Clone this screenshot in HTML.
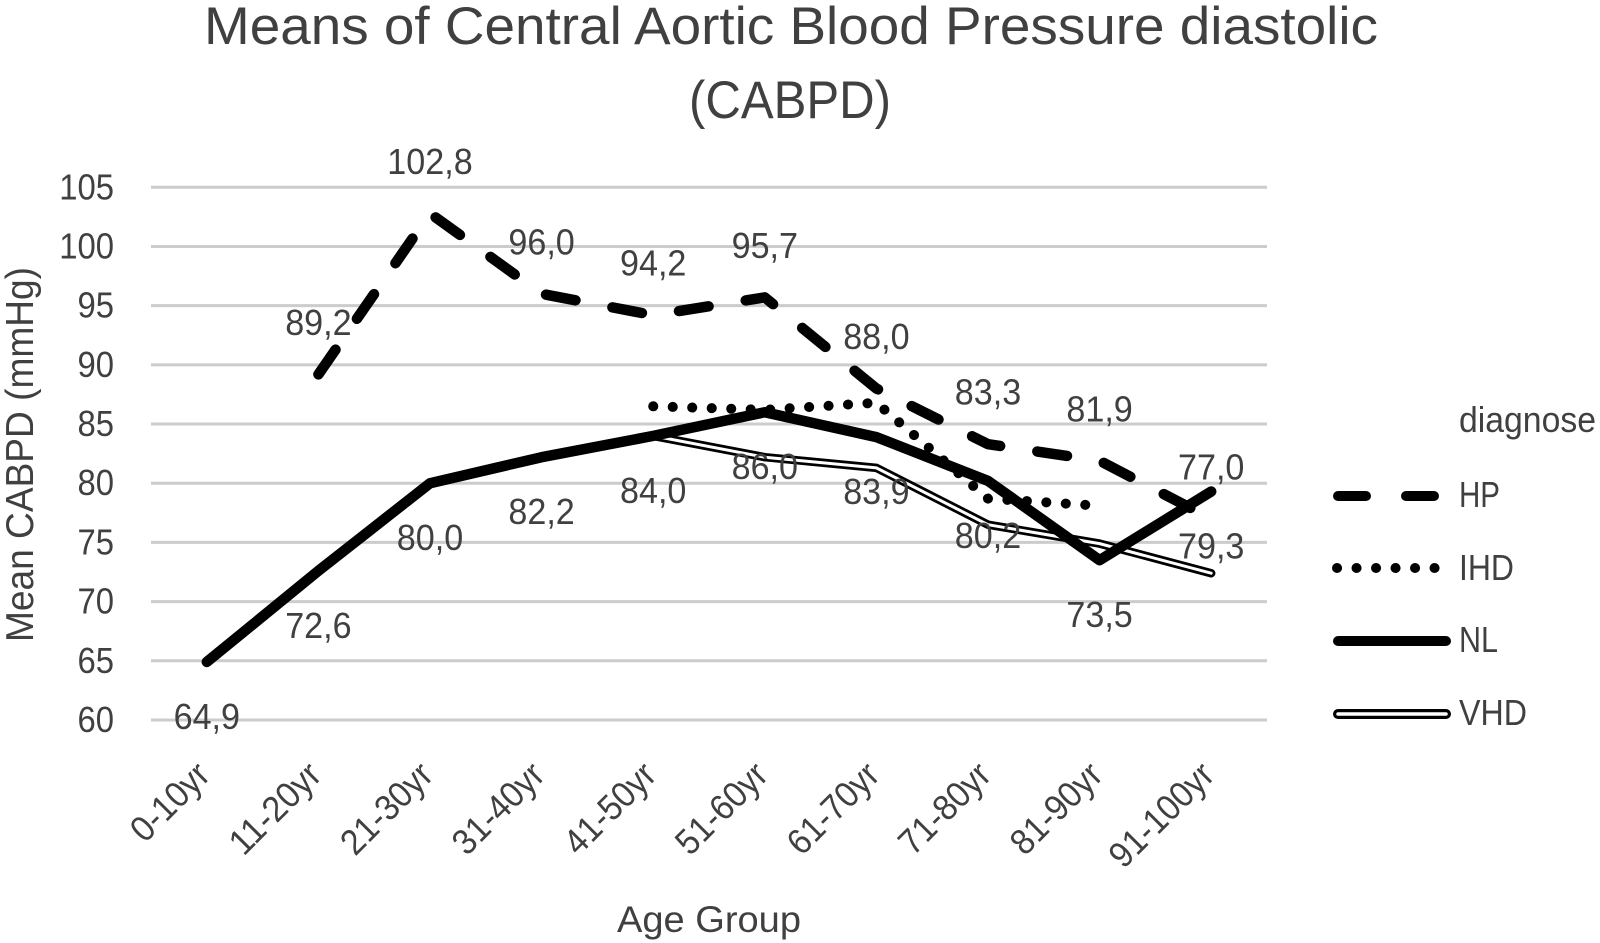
<!DOCTYPE html>
<html lang="en">
<head>
<meta charset="utf-8">
<title>Means of Central Aortic Blood Pressure diastolic (CABPD)</title>
<style>
html,body{margin:0;padding:0;background:#fff;width:1600px;height:943px;overflow:hidden}
svg{display:block}
text{font-family:"Liberation Sans",sans-serif;fill:#404040}
</style>
</head>
<body>
<svg id="chart" width="1600" height="943" viewBox="0 0 1600 943" xmlns="http://www.w3.org/2000/svg">
  <rect width="1600" height="943" fill="#ffffff"/>
  <g id="grid"></g>
  <g id="ticks"></g>
  <g id="cats"></g>
  <g id="series"></g>
  <g id="labels"></g>

  <text x="204" y="44" font-size="53" textLength="1174" lengthAdjust="spacingAndGlyphs">Means of Central Aortic Blood Pressure diastolic</text>
  <text x="689" y="118" font-size="53" textLength="202" lengthAdjust="spacingAndGlyphs">(CABPD)</text>
  <text transform="translate(33 642) rotate(-90)" font-size="39" textLength="375" lengthAdjust="spacingAndGlyphs">Mean CABPD (mmHg)</text>
  <text x="617" y="932" font-size="37" textLength="184" lengthAdjust="spacingAndGlyphs">Age Group</text>

  <g>
    <text x="1459" y="432" font-size="36" textLength="137" lengthAdjust="spacingAndGlyphs">diagnose</text>
    <g>
      <path d="M1338 496H1445" fill="none" stroke="#000" stroke-width="10" stroke-linecap="round" stroke-dasharray="28 40"/>
      <text x="1459" y="507" font-size="36" textLength="41" lengthAdjust="spacingAndGlyphs">HP</text>
    </g>
    <g>
      <path d="M1337 568H1440" fill="none" stroke="#000" stroke-width="10" stroke-linecap="round" stroke-dasharray="0.1 19.4"/>
      <text x="1459" y="580" font-size="36" textLength="55" lengthAdjust="spacingAndGlyphs">IHD</text>
    </g>
    <g>
      <path d="M1338 641H1446" fill="none" stroke="#000" stroke-width="10" stroke-linecap="round"/>
      <text x="1459" y="652" font-size="36" textLength="39" lengthAdjust="spacingAndGlyphs">NL</text>
    </g>
    <g>
      <path d="M1338 714H1446" fill="none" stroke="#000" stroke-width="10" stroke-linecap="round"/>
      <path d="M1338 714H1446" fill="none" stroke="#fff" stroke-width="3.5" stroke-linecap="round"/>
      <text x="1459" y="725" font-size="36" textLength="68" lengthAdjust="spacingAndGlyphs">VHD</text>
    </g>
  </g>
</svg>
<script>
var categories = ['0-10yr','11-20yr','21-30yr','31-40yr','41-50yr','51-60yr','61-70yr','71-80yr','81-90yr','91-100yr'];
var yTicks = [60,65,70,75,80,85,90,95,100,105];
var hpValues  = [null,89.2,102.8,96.0,94.2,95.7,88.0,83.3,81.9,77.0];
var ihdValues = [null,null,null,null,86.5,86.2,86.8,78.7,78.1,null];
var nlValues  = [64.9,72.6,80.0,82.2,84.0,86.0,83.9,80.2,73.5,79.3];
var vhdValues = [null,null,null,null,84.0,82.2,81.3,76.5,74.9,72.4];

var SVGNS = 'http://www.w3.org/2000/svg';
var plotLeft = 151, plotRight = 1267, y60 = 720, y105 = 187.3;
function xPos(i){ return plotLeft + (plotRight - plotLeft) * (i + 0.5) / categories.length; }
function yPos(v){ return y60 - (v - 60) * (y60 - y105) / 45; }
var charW = {',':0.25,'-':0.306,'y':0.453,'r':0.349};
function fitWidth(s, em){
  var w = 0;
  for (var k = 0; k < s.length; k++) { w += (charW[s[k]] !== undefined ? charW[s[k]] : 0.507); }
  return w * em;
}
function fmt(v){ return v.toFixed(1).replace('.', ','); }
function linePath(vals){
  var d = '';
  vals.forEach(function(v, i){
    if (v === null) return;
    d += (d ? 'L' : 'M') + xPos(i).toFixed(2) + ' ' + yPos(v).toFixed(2);
  });
  return d;
}
function textEl(parent, str, size, em){
  var t = document.createElementNS(SVGNS, 'text');
  t.textContent = str;
  t.setAttribute('font-size', size);
  t.setAttribute('textLength', fitWidth(str, em).toFixed(1));
  t.setAttribute('lengthAdjust', 'spacingAndGlyphs');
  parent.appendChild(t);
  return t;
}
function strokePath(parent, vals, width, color, dash){
  var p = document.createElementNS(SVGNS, 'path');
  p.setAttribute('d', linePath(vals));
  p.setAttribute('fill', 'none');
  p.setAttribute('stroke', color);
  p.setAttribute('stroke-width', width);
  p.setAttribute('stroke-linecap', 'round');
  p.setAttribute('stroke-linejoin', 'round');
  if (dash) p.setAttribute('stroke-dasharray', dash);
  parent.appendChild(p);
  return p;
}

var grid = document.getElementById('grid');
var ticks = document.getElementById('ticks');
yTicks.forEach(function(v){
  var l = document.createElementNS(SVGNS, 'line');
  
  
  l.setAttribute('x1', plotLeft);
  l.setAttribute('x2', plotRight);
  l.setAttribute('y1', yPos(v));
  l.setAttribute('y2', yPos(v));
  l.setAttribute('stroke', '#cccccc');
  l.setAttribute('stroke-width', '3');
  grid.appendChild(l);
  var t = textEl(ticks, String(v), 36, 36);
  
  
  t.setAttribute('x', 114);
  t.setAttribute('y', yPos(v) + 12);
  t.setAttribute('text-anchor', 'end');
});

var cats = document.getElementById('cats');
categories.forEach(function(c, i){
  var t = textEl(cats, c, 36, 36);
  
  
  t.setAttribute('text-anchor', 'end');
  t.setAttribute('transform', 'translate(' + (xPos(i) + 5) + ' 777) rotate(-45)');
});

var series = document.getElementById('series');
var vhdOuter = strokePath(series, vhdValues, 8.5, '#000000');


var vhdInner = strokePath(series, vhdValues, 3, '#ffffff');


var hpLine = strokePath(series, hpValues, 10.5, '#000000', '30 37.6');


var ihdLine = strokePath(series, ihdValues, 10, '#000000', '0.1 19.4');


var nlLine = strokePath(series, nlValues, 10.5, '#000000');



var labels = document.getElementById('labels');
hpValues.forEach(function(v, i){
  if (v === null) return;
  var t = textEl(labels, fmt(v), 36, 37.5);
  
  
  t.setAttribute('x', xPos(i));
  t.setAttribute('y', yPos(v) - 39.5);
  t.setAttribute('text-anchor', 'middle');
});
nlValues.forEach(function(v, i){
  var t = textEl(labels, fmt(v), 36, 37.5);
  
  
  t.setAttribute('x', xPos(i));
  t.setAttribute('y', yPos(v) + 67);
  t.setAttribute('text-anchor', 'middle');
});
</script>
</body>
</html>
